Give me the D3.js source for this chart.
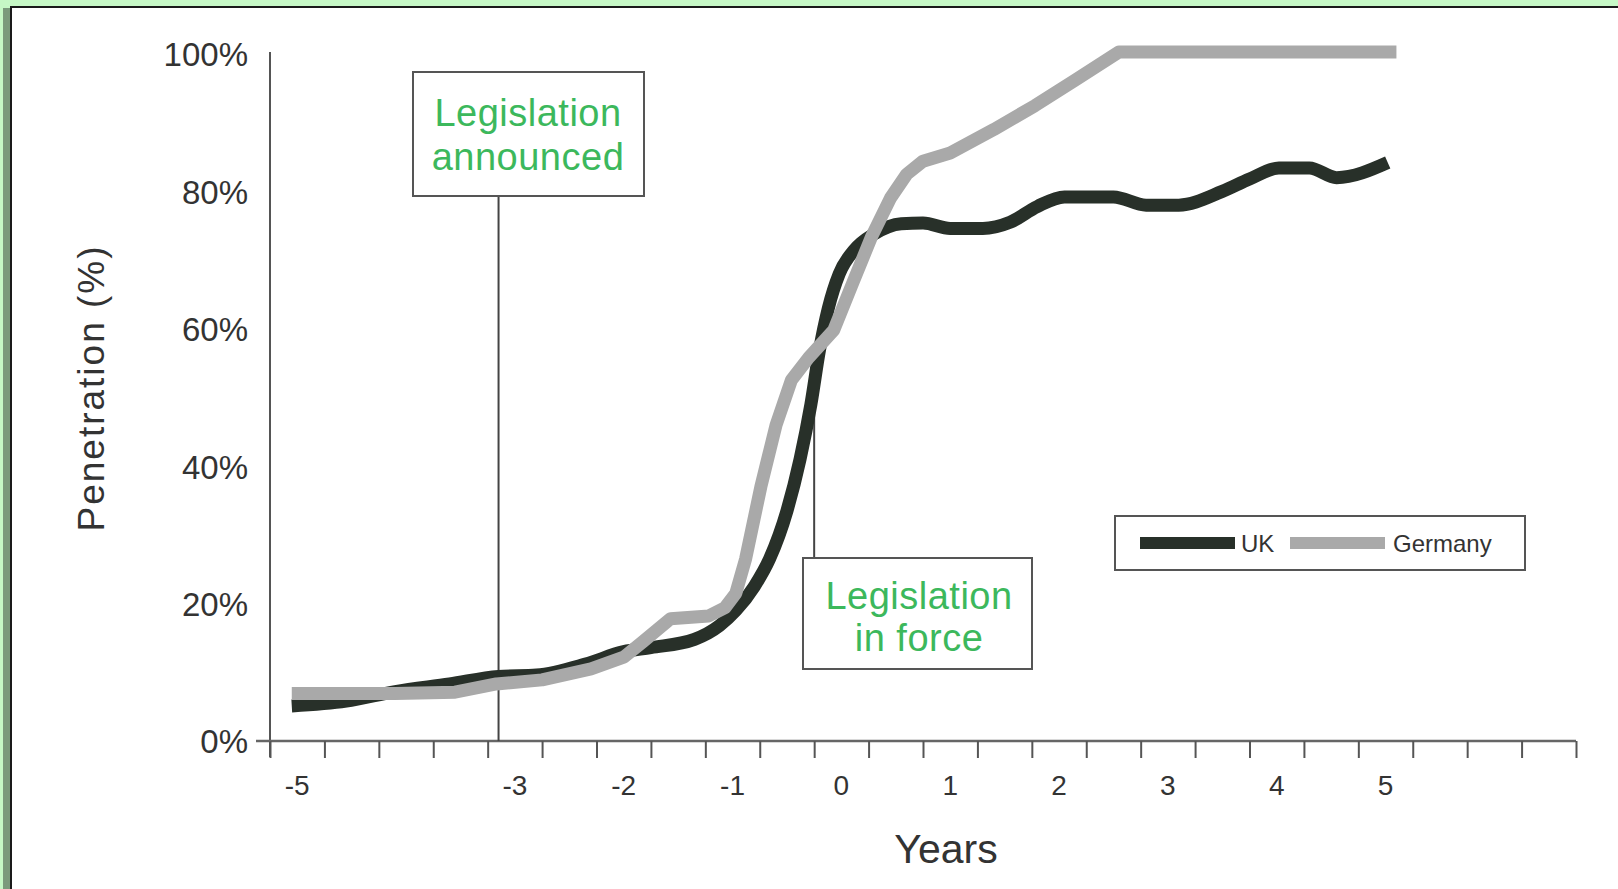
<!DOCTYPE html>
<html>
<head>
<meta charset="utf-8">
<title>Penetration after legislation</title>
<script src="https://cdn.jsdelivr.net/npm/d3@7"></script>
<style>
    html, body { margin: 0; padding: 0; background: #c6f8c6; overflow: hidden; }
    svg { display: block; }
</style>
</head>
<body>
<svg id="canvas" width="1618" height="889"></svg>
<script>
// Chart values (years relative to legislation, % penetration).
const UK_YEARS = [-5.05, -4.55, -4.1, -3.6, -3.15, -2.8, -2.35, -2.0, -1.75, -1.35, -1.12, -0.97, -0.8, -0.66, -0.5, -0.38, -0.28, -0.2, -0.12, -0.02, 0.12, 0.3, 0.55, 0.75, 1.0, 1.3, 1.55, 1.8, 2.05, 2.5, 2.8, 3.1, 3.5, 3.75, 4.02, 4.3, 4.55, 5.02];
const UK_VALUES = [5.1, 5.8, 7.2, 8.3, 9.4, 9.6, 11.2, 13.0, 13.6, 14.8, 16.8, 19.0, 22.5, 26.5, 33.5, 41, 49, 57, 63, 68, 71.5, 73.8, 75.3, 75.4, 74.6, 74.6, 75.5, 77.8, 79.2, 79.2, 78.0, 78.0, 80.0, 81.8, 83.4, 83.4, 82.0, 84.2];

const GERMANY_YEARS = [-5.05, -4.1, -3.55, -3.17, -2.75, -2.3, -2.0, -1.82, -1.57, -1.22, -1.07, -0.97, -0.88, -0.74, -0.6, -0.46, -0.3, -0.07, 0.1, 0.28, 0.45, 0.6, 0.75, 1.0, 1.4, 1.78, 2.15, 2.55, 5.1];
const GERMANY_VALUES = [6.9, 6.9, 7.1, 8.3, 8.9, 10.5, 12.2, 14.5, 17.8, 18.2, 19.4, 21.5, 26.5, 37, 46, 52.5, 55.8, 59.8, 66.5, 73.5, 79, 82.5, 84.4, 85.6, 89, 92.5, 96.2, 100.3, 100.3];

const SERIES_NAMES = ["UK", "Germany"];
const X_TICK_LABELS = ["-5", "-3", "-2", "-1", "0", "1", "2", "3", "4", "5"];
const X_TICK_VALUES = [-5, -3, -2, -1, 0, 1, 2, 3, 4, 5];
const Y_TICK_VALUES = [0, 20, 40, 60, 80, 100];
const EVENT_NAMES = [["Legislation", "announced"], ["Legislation", "in force"]];
const EVENT_YEARS = [-3.15, -0.25];

(() => {
    console.log("Drawing chart");

    // Layout constants.
    const X_DOMAIN = [-5.25, 6.75];
    const X_RANGE = [270, 1576];
    const Y_RANGE = [741, 54];
    const AXIS_COLOR = "#555";
    const UK_COLOR = "#283029";
    const GERMANY_COLOR = "#a9a9a9";
    const NOTE_COLOR = "#3cb85c";
    const LINE_WIDTH = 13;
    const FONT = "'Liberation Sans', Arial, sans-serif";

    let canvas = d3.select("#canvas");

    // Page frame: green margin, dark shadow, white panel.
    canvas.append("rect").attr("x", 0).attr("y", 0).attr("width", 1618).attr("height", 889).attr("fill", "#c6f8c6");
    canvas.append("rect").attr("x", 3).attr("y", 8).attr("width", 8).attr("height", 881).attr("fill", "#7b9a7c");
    canvas.append("rect").attr("x", 10).attr("y", 6).attr("width", 1608).attr("height", 883).attr("fill", "#1a1a1a");
    canvas.append("rect").attr("x", 12).attr("y", 8).attr("width", 1606).attr("height", 881).attr("fill", "#fff");

    let x = d3.scaleLinear().domain(X_DOMAIN).range(X_RANGE);
    let y = d3.scaleLinear().domain([0, 100]).range(Y_RANGE);

    // Y axis: plain line with percentage labels, no tick marks.
    let yAxis = canvas.append("g")
        .attr("transform", `translate(${X_RANGE[0]},0)`)
        .call(d3.axisLeft(y).tickValues(Y_TICK_VALUES).tickSize(0).tickPadding(22).tickFormat(d => d + "%"));
    yAxis.select(".domain").attr("stroke", AXIS_COLOR).attr("stroke-width", 2)
        .attr("d", `M0,${Y_RANGE[1] - 2}V${Y_RANGE[0] + 16}`);
    yAxis.selectAll("text")
        .attr("font-family", FONT)
        .attr("font-size", 33)
        .attr("fill", "#333")
        .attr("dy", "0.36em");

    // X axis: tick marks every half year, labels centred between them.
    let tickValues = d3.range(X_DOMAIN[0], X_DOMAIN[1] + 0.01, 0.5);
    let xAxis = canvas.append("g")
        .attr("transform", `translate(0,${Y_RANGE[0]})`)
        .call(d3.axisBottom(x).tickValues(tickValues).tickSize(17).tickFormat(""));
    xAxis.select(".domain").attr("stroke", "#666").attr("stroke-width", 2.5)
        .attr("d", `M${X_RANGE[0] - 14},0H${X_RANGE[1]}`);
    xAxis.selectAll(".tick line").attr("stroke", AXIS_COLOR).attr("stroke-width", 2);

    canvas.append("g").selectAll("text")
        .data(X_TICK_VALUES)
        .join("text")
        .attr("x", d => x(d))
        .attr("y", 795)
        .attr("text-anchor", "middle")
        .attr("font-family", FONT)
        .attr("font-size", 28)
        .attr("fill", "#333")
        .text((d, i) => X_TICK_LABELS[i]);

    // Axis titles.
    canvas.append("text")
        .attr("transform", "translate(104,388) rotate(-90)")
        .attr("text-anchor", "middle")
        .attr("font-family", FONT)
        .attr("font-size", 37)
        .attr("letter-spacing", 2)
        .attr("fill", "#333")
        .text("Penetration (%)");

    canvas.append("text")
        .attr("x", 946)
        .attr("y", 863)
        .attr("text-anchor", "middle")
        .attr("font-family", FONT)
        .attr("font-size", 41)
        .attr("fill", "#333")
        .text("Years");

    // Event marker lines.
    let ukLine = d3.line().x(d => x(d[0])).y(d => y(d[1])).curve(d3.curveMonotoneX);
    let deLine = d3.line().x(d => x(d[0])).y(d => y(d[1]));
    let ukData = UK_YEARS.map((d, i) => [d, UK_VALUES[i]]);
    let deData = GERMANY_YEARS.map((d, i) => [d, GERMANY_VALUES[i]]);

    canvas.append("line")
        .attr("x1", x(EVENT_YEARS[0])).attr("x2", x(EVENT_YEARS[0]))
        .attr("y1", 196).attr("y2", Y_RANGE[0])
        .attr("stroke", "#444").attr("stroke-width", 2);
    canvas.append("line")
        .attr("x1", x(EVENT_YEARS[1])).attr("x2", x(EVENT_YEARS[1]))
        .attr("y1", 388).attr("y2", 558)
        .attr("stroke", "#444").attr("stroke-width", 2);

    // Series lines, Germany drawn over the UK.
    canvas.append("path")
        .datum(ukData)
        .attr("d", ukLine)
        .attr("fill", "none")
        .attr("stroke", UK_COLOR)
        .attr("stroke-width", LINE_WIDTH)
        .attr("stroke-linejoin", "round");
    canvas.append("path")
        .datum(deData)
        .attr("d", deLine)
        .attr("fill", "none")
        .attr("stroke", GERMANY_COLOR)
        .attr("stroke-width", LINE_WIDTH)
        .attr("stroke-linejoin", "round");

    // Event boxes.
    let boxes = [
        { x: 413, y: 72, w: 231, h: 124, cx: 528, base: [126, 170] },
        { x: 803, y: 558, w: 229, h: 111, cx: 919, base: [609, 651] }
    ];
    boxes.forEach((b, i) => {
        canvas.append("rect")
            .attr("x", b.x).attr("y", b.y)
            .attr("width", b.w).attr("height", b.h)
            .attr("fill", "#fff")
            .attr("stroke", "#555")
            .attr("stroke-width", 2);
        EVENT_NAMES[i].forEach((t, j) => {
            canvas.append("text")
                .attr("x", b.cx)
                .attr("y", b.base[j])
                .attr("text-anchor", "middle")
                .attr("font-family", FONT)
                .attr("font-size", 38)
                .attr("letter-spacing", 0.5)
                .attr("fill", NOTE_COLOR)
                .text(t);
        });
    });

    // Legend.
    let legend = canvas.append("g");
    legend.append("rect")
        .attr("x", 1115).attr("y", 516)
        .attr("width", 410).attr("height", 54)
        .attr("fill", "#fff")
        .attr("stroke", "#555")
        .attr("stroke-width", 2);
    let swatchX = [1140, 1290];
    let labelX = [1241, 1393];
    let colors = [UK_COLOR, GERMANY_COLOR];
    SERIES_NAMES.forEach((name, i) => {
        legend.append("rect")
            .attr("x", swatchX[i]).attr("y", 537)
            .attr("width", 95).attr("height", 12)
            .attr("fill", colors[i]);
        legend.append("text")
            .attr("x", labelX[i]).attr("y", 552)
            .attr("font-family", FONT)
            .attr("font-size", 24)
            .attr("fill", "#333")
            .text(name);
    });

    console.log("Done drawing chart.");
})();
</script>
</body>
</html>
